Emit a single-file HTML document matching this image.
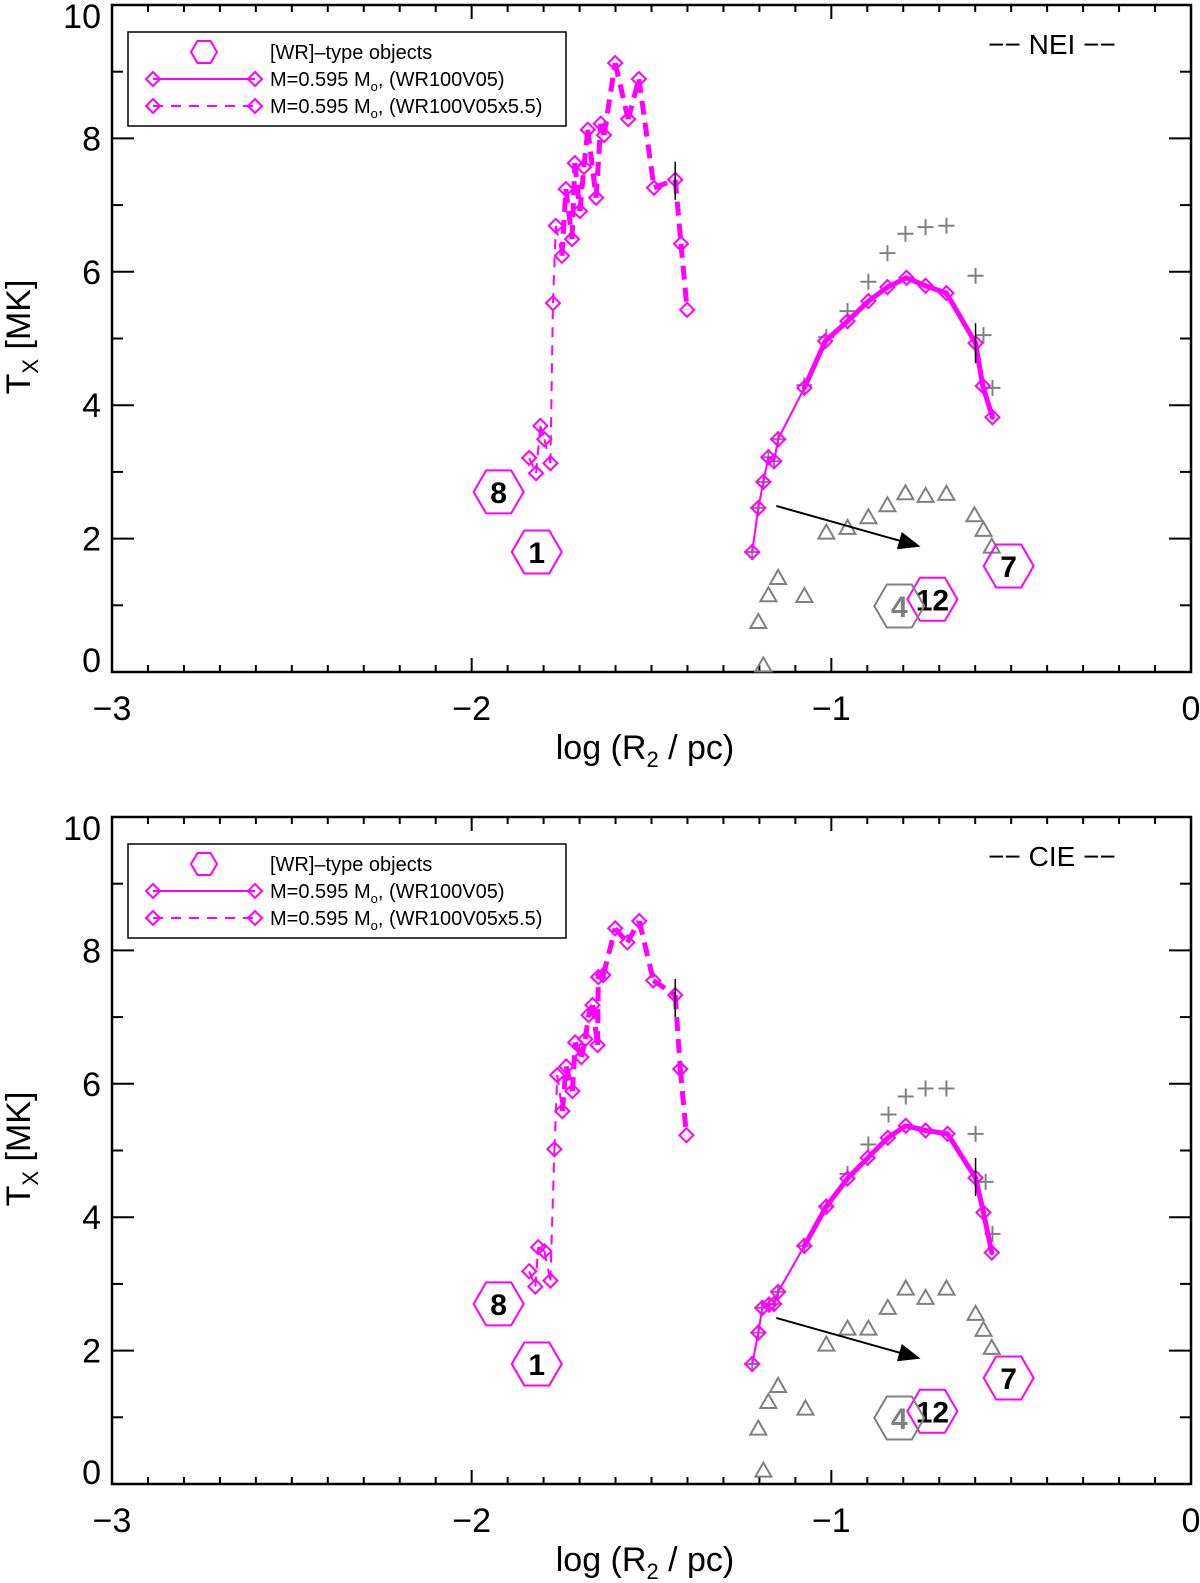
<!DOCTYPE html>
<html><head><meta charset="utf-8"><title>Tx vs log R2</title>
<style>
body{margin:0;background:#fff;}
svg{display:block;font-family:"Liberation Sans",Arial,sans-serif;}
</style></head>
<body>
<svg id="chart" width="1200" height="1583" viewBox="0 0 1200 1583" xmlns="http://www.w3.org/2000/svg"></svg>
<script>
// ---- shared axis config ----
const xTicks = [-3, -2, -1, 0];
const xTickLabels = ["\u22123", "\u22122", "\u22121", "0"];
const yTicks = [0, 2, 4, 6, 8, 10];
const yTickLabels = ["0", "2", "4", "6", "8", "10"];
const panelNames = ["NEI", "CIE"];

// ---- observed [WR] objects (same in both panels) ----
const hexLabels = ["8", "1", "7", "12", "4"];
const hexX = [-1.925, -1.819, -0.507, -0.719, -0.811];
const hexY = [2.70, 1.80, 1.59, 1.09, 0.99];
const hexGray = [false, false, false, false, true];
const arrowFrom = [-1.153, 2.49];
const arrowTo = [-0.752, 1.88];

// ---- NEI panel ----
const neiSolidX = [-1.220, -1.203, -1.189, -1.175, -1.159, -1.148, -1.075, -1.017, -0.955, -0.897, -0.844, -0.791, -0.738, -0.680, -0.599, -0.579, -0.552];
const neiSolidY = [1.80, 2.46, 2.85, 3.22, 3.16, 3.49, 4.26, 4.96, 5.26, 5.56, 5.77, 5.91, 5.79, 5.68, 4.93, 4.29, 3.82];
const neiDashX = [-1.840, -1.821, -1.809, -1.798, -1.781, -1.774, -1.766, -1.749, -1.738, -1.721, -1.713, -1.699, -1.688, -1.677, -1.654, -1.641, -1.632, -1.601, -1.565, -1.535, -1.493, -1.434, -1.418, -1.401];
const neiDashY = [3.21, 2.98, 3.69, 3.49, 3.13, 5.53, 6.69, 6.24, 7.24, 6.49, 7.63, 6.91, 7.57, 8.13, 7.11, 8.22, 8.05, 9.13, 8.29, 8.89, 7.26, 7.38, 6.42, 5.43];
const neiPlusX = [-0.844, -0.794, -0.738, -0.680, -0.599, -0.897, -0.955, -0.577, -0.552, -1.014, -1.075, -1.148, -1.175, -1.159, -1.189, -1.203, -1.220];
const neiPlusY = [6.28, 6.57, 6.67, 6.69, 5.94, 5.85, 5.41, 5.05, 4.26, 5.02, 4.30, 3.49, 3.22, 3.16, 2.85, 2.46, 1.80];
const neiTriX = [-0.794, -0.738, -0.680, -0.844, -0.897, -0.955, -1.014, -0.602, -0.577, -0.554, -1.148, -1.175, -1.075, -1.203, -1.189];
const neiTriY = [2.68, 2.64, 2.67, 2.50, 2.32, 2.16, 2.09, 2.35, 2.13, 1.88, 1.41, 1.15, 1.14, 0.75, 0.10];
const neiErrX = [-0.599, -1.434];
const neiErrLo = [4.63, 7.08];
const neiErrHi = [5.23, 7.65];

// ---- CIE panel ----
const cieSolidX = [-1.220, -1.203, -1.192, -1.173, -1.159, -1.148, -1.075, -1.014, -0.955, -0.899, -0.843, -0.793, -0.738, -0.677, -0.599, -0.577, -0.554];
const cieSolidY = [1.80, 2.27, 2.64, 2.69, 2.70, 2.88, 3.57, 4.16, 4.58, 4.89, 5.19, 5.37, 5.30, 5.25, 4.59, 4.07, 3.47];
const cieDashX = [-1.840, -1.823, -1.815, -1.798, -1.781, -1.770, -1.762, -1.748, -1.737, -1.720, -1.712, -1.695, -1.684, -1.675, -1.664, -1.650, -1.648, -1.634, -1.601, -1.567, -1.534, -1.495, -1.434, -1.420, -1.403];
const cieDashY = [3.19, 2.96, 3.55, 3.49, 3.05, 5.02, 6.13, 5.59, 6.26, 5.89, 6.62, 6.40, 6.67, 7.03, 7.18, 6.58, 7.60, 7.63, 8.33, 8.12, 8.44, 7.55, 7.33, 6.22, 5.23];
const ciePlusX = [-0.841, -0.793, -0.738, -0.680, -0.599, -0.897, -0.955, -0.571, -0.552, -1.014, -1.075, -1.148, -1.159, -1.173, -1.192, -1.203, -1.220];
const ciePlusY = [5.54, 5.81, 5.93, 5.93, 5.25, 5.09, 4.65, 4.53, 3.75, 4.16, 3.57, 2.88, 2.70, 2.69, 2.64, 2.27, 1.80];
const cieTriX = [-0.793, -0.738, -0.680, -0.843, -0.897, -0.955, -1.014, -0.599, -0.577, -0.554, -1.148, -1.175, -1.072, -1.203, -1.189];
const cieTriY = [2.93, 2.79, 2.93, 2.64, 2.33, 2.33, 2.09, 2.55, 2.31, 2.04, 1.47, 1.23, 1.13, 0.83, 0.20];
const cieErrX = [-0.599, -1.434];
const cieErrLo = [4.32, 7.00];
const cieErrHi = [4.89, 7.57];

const NS = "http://www.w3.org/2000/svg";
const svg = document.getElementById("chart");
const MAG = "#ff00ff", GRAY = "#808080";
const PX0 = 112, PX1 = 1191;
function mk(tag, attrs, parent) {
  const e = document.createElementNS(NS, tag);
  for (const k in attrs) e.setAttribute(k, attrs[k]);
  (parent || svg).appendChild(e);
  return e;
}
function hexPts(cx, cy, r, h) {
  return [[cx - r, cy], [cx - r / 2, cy - h], [cx + r / 2, cy - h], [cx + r, cy], [cx + r / 2, cy + h], [cx - r / 2, cy + h]].map(p => p.join(",")).join(" ");
}
function diamond(g, cx, cy) {
  return mk("polygon", {points: `${cx},${cy-7} ${cx+7},${cy} ${cx},${cy+7} ${cx-7},${cy}`, fill: "none", stroke: MAG, "stroke-width": 2}, g);
}

function drawPanel(off, name, sX, sY, dX, dY, pX, pY, tX, tY, eX, eLo, eHi) {
  const top = 5 + off, bot = 672 + off;
  const sx = v => PX0 + (v + 3) / 3 * (PX1 - PX0);
  const sy = v => bot - v / 10 * (bot - top);
  const g = mk("g", {});
  
  

  const frame = mk("rect", {x: PX0, y: top, width: PX1 - PX0, height: bot - top, fill: "none", stroke: "#000", "stroke-width": 2.5}, g);
  
  

  for (let i = 0; i <= 30; i++) {
    const x = sx(-3 + i / 10);
    const len = i % 10 === 0 ? 14 : 7;
    mk("line", {x1: x, y1: bot, x2: x, y2: bot - len, stroke: "#000", "stroke-width": 2}, g);
    mk("line", {x1: x, y1: top, x2: x, y2: top + len, stroke: "#000", "stroke-width": 2}, g);
  }
  for (let i = 0; i <= 10; i++) {
    const y = sy(i);
    const len = i % 2 === 0 ? 22 : 11;
    mk("line", {x1: PX0, y1: y, x2: PX0 + len, y2: y, stroke: "#000", "stroke-width": 2}, g);
    mk("line", {x1: PX1, y1: y, x2: PX1 - len, y2: y, stroke: "#000", "stroke-width": 2}, g);
  }
  xTicks.forEach((v, i) => {
    const t = mk("text", {x: sx(v), y: bot + 48, "font-size": 34, "text-anchor": "middle"}, g);
    t.textContent = xTickLabels[i];
    
    
  });
  yTicks.forEach((v, i) => {
    let by = sy(v) + 12;
    if (v === 10) by = top + 23;
    if (v === 0) by = bot;
    const t = mk("text", {x: 101, y: by, "font-size": 34, "text-anchor": "end"}, g);
    t.textContent = yTickLabels[i];
    
    
  });
  const xt = mk("text", {x: 645, y: bot + 87, "font-size": 34, "text-anchor": "middle"}, g);
  xt.innerHTML = 'log (R<tspan font-size="22" dy="8">2</tspan><tspan dy="-8"> / pc)</tspan>';
  
  
  const yt = mk("text", {x: 0, y: 0, "font-size": 34, "text-anchor": "middle", transform: `translate(30,${off + 337}) rotate(-90)`}, g);
  yt.innerHTML = 'T<tspan font-size="22" dy="8">X</tspan><tspan dy="-8"> [MK]</tspan>';
  
  

  const pl = mk("text", {x: 1052, y: off + 54, "font-size": 28, "text-anchor": "middle"}, g);
  pl.textContent = "\u2212\u2212 " + name + " \u2212\u2212";
  
  

  tX.forEach((v, i) => {
    const cx = sx(v), cy = sy(tY[i]);
    const tri = mk("polygon", {points: `${cx-8},${cy+6} ${cx+8},${cy+6} ${cx},${cy-8}`, fill: "none", stroke: GRAY, "stroke-width": 2}, g);
    
    
  });
  pX.forEach((v, i) => {
    const cx = sx(v), cy = sy(pY[i]);
    const p = mk("path", {d: `M${cx-8},${cy}H${cx+8}M${cx},${cy-8}V${cy+8}`, stroke: GRAY, "stroke-width": 2}, g);
    
    
  });

  for (let i = 0; i < sX.length - 1; i++) {
    const thick = sX[i] >= -1.08;
    const seg = mk("line", {x1: sx(sX[i]), y1: sy(sY[i]), x2: sx(sX[i+1]), y2: sy(sY[i+1]), stroke: MAG, "stroke-width": thick ? 5 : 2, "stroke-linecap": "round"}, g);
    
    
  }
  sX.forEach((v, i) => {
    const d = diamond(g, sx(v), sy(sY[i]));
    
    
  });
  for (let i = 0; i < dX.length - 1; i++) {
    const thick = dX[i] >= -1.75;
    const seg = mk("line", {x1: sx(dX[i]), y1: sy(dY[i]), x2: sx(dX[i+1]), y2: sy(dY[i+1]), stroke: MAG, "stroke-width": thick ? 5 : 2, "stroke-dasharray": thick ? "14,8" : "10,8"}, g);
    
    
  }
  dX.forEach((v, i) => {
    const d = diamond(g, sx(v), sy(dY[i]));
    
    
  });
  eX.forEach((v, i) => {
    const l = mk("line", {x1: sx(v), y1: sy(eLo[i]), x2: sx(v), y2: sy(eHi[i]), stroke: "#000", "stroke-width": 1.5}, g);
    
    
  });

  const ax1 = sx(arrowFrom[0]), ay1 = sy(arrowFrom[1]), ax2 = sx(arrowTo[0]), ay2 = sy(arrowTo[1]);
  const ang = Math.atan2(ay2 - ay1, ax2 - ax1);
  const ar = mk("g", {}, g);
  
  
  mk("line", {x1: ax1, y1: ay1, x2: ax2 - 16 * Math.cos(ang), y2: ay2 - 16 * Math.sin(ang), stroke: "#000", "stroke-width": 2}, ar);
  const L = 22, W = 9;
  const bx = ax2 - L * Math.cos(ang), by = ay2 - L * Math.sin(ang);
  mk("polygon", {points: `${ax2},${ay2} ${bx + W*Math.sin(ang)},${by - W*Math.cos(ang)} ${bx - W*Math.sin(ang)},${by + W*Math.cos(ang)}`, fill: "#000"}, ar);

  hexLabels.forEach((lab, i) => {
    const cx = sx(hexX[i]), cy = sy(hexY[i]);
    const hg = mk("g", {}, g);
    
    
    const col = hexGray[i] ? GRAY : MAG;
    mk("polygon", {points: hexPts(cx, cy, 25, 21.5), fill: "none", stroke: col, "stroke-width": 2}, hg);
    const t = mk("text", {x: cx, y: cy + 11, "font-size": 30, "font-weight": "bold", "text-anchor": "middle", fill: hexGray[i] ? GRAY : "#000"}, hg);
    t.textContent = lab;
  });

  const lg = mk("g", {}, g);
  
  
  mk("rect", {x: 128, y: off + 32, width: 438, height: 94, fill: "#fff", stroke: "#000", "stroke-width": 1.5}, lg);
  mk("polygon", {points: hexPts(204, off + 52, 13, 11), fill: "none", stroke: MAG, "stroke-width": 2}, lg);
  const t1 = mk("text", {x: 270, y: off + 59, "font-size": 20}, lg);
  t1.textContent = "[WR]\u2013type objects";
  
  
  mk("line", {x1: 153, y1: off + 79, x2: 255, y2: off + 79, stroke: MAG, "stroke-width": 2}, lg);
  diamond(lg, 153, off + 79); diamond(lg, 255, off + 79);
  const t2 = mk("text", {x: 270, y: off + 86, "font-size": 20}, lg);
  t2.innerHTML = 'M=0.595 M<tspan font-size="13" dy="5">o</tspan><tspan dy="-5">, (WR100V05)</tspan>';
  
  
  mk("line", {x1: 153, y1: off + 106, x2: 255, y2: off + 106, stroke: MAG, "stroke-width": 2, "stroke-dasharray": "10,8"}, lg);
  diamond(lg, 153, off + 106); diamond(lg, 255, off + 106);
  const t3 = mk("text", {x: 270, y: off + 113, "font-size": 20}, lg);
  t3.innerHTML = 'M=0.595 M<tspan font-size="13" dy="5">o</tspan><tspan dy="-5">, (WR100V05x5.5)</tspan>';
  
  
}

drawPanel(0, panelNames[0], neiSolidX, neiSolidY, neiDashX, neiDashY, neiPlusX, neiPlusY, neiTriX, neiTriY, neiErrX, neiErrLo, neiErrHi);
drawPanel(812, panelNames[1], cieSolidX, cieSolidY, cieDashX, cieDashY, ciePlusX, ciePlusY, cieTriX, cieTriY, cieErrX, cieErrLo, cieErrHi);
</script>
</body></html>
